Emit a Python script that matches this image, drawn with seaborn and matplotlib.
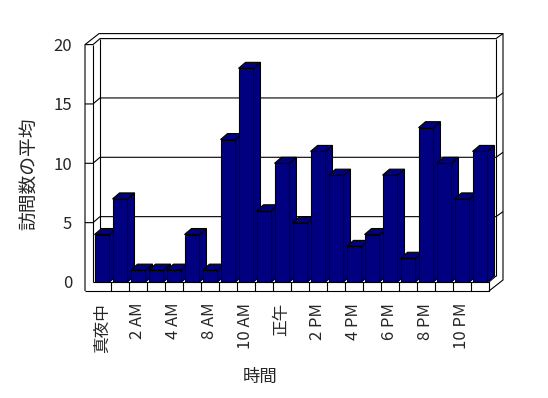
import numpy as np
import pandas as pd
import matplotlib
matplotlib.use("Agg")
import matplotlib.pyplot as plt
import seaborn as sns
from matplotlib.patches import Polygon
from matplotlib.lines import Line2D

# ---- data ----
hours = ["真夜中", "1 AM", "2 AM", "3 AM", "4 AM", "5 AM", "8 AM", "9 AM",
         "10 AM", "11 AM", "正午", "1 PM", "2 PM", "3 PM", "4 PM", "5 PM",
         "6 PM", "7 PM", "8 PM", "9 PM", "10 PM", "11 PM"]
visits = [4, 7, 1, 1, 1, 4, 1, 12, 18, 6, 10, 5, 11, 9, 3, 4, 9, 2, 13, 10, 7, 11]
y_ticks = [0, 5, 10, 15, 20]
x_title = "時間"
y_title = "訪問数の平均"

sns.set_theme(style="white")
plt.rcParams['font.family'] = ['Noto Sans CJK JP', 'DejaVu Sans']

NAVY = "#000080"
W, H = 548, 398
fig = plt.figure(figsize=(W / 100, H / 100), dpi=100)
L, B, AW, AH = 93, 116, 396, 237.4
ax = fig.add_axes([L / W, B / H, AW / W, AH / H])
ax.set_facecolor("none")

df = pd.DataFrame({x_title: hours, y_title: visits})
sns.barplot(data=df, x=x_title, y=y_title, order=hours, color=NAVY,
            saturation=1, width=0.83, edgecolor="black", linewidth=0.8,
            ax=ax, zorder=5)

n = len(hours)
ax.set_xlim(-0.5, n - 0.5)
ax.set_ylim(y_ticks[0], y_ticks[-1])
sx = AW / n
sy = AH / (y_ticks[-1] - y_ticks[0])


def P(x, y, ox=0.0, oy=0.0):
    return (x + ox / sx, y + oy / sy)


def line(pts, z=1, lw=0.8):
    xs = [p[0] for p in pts]
    ys = [p[1] for p in pts]
    ax.add_line(Line2D(xs, ys, color="black", lw=lw, zorder=z,
                       clip_on=False, solid_capstyle="butt"))


DX, DY = 7, 6          # depth to back wall (px)
OX, OY = 14, 11        # outer edge of wall (px)
TH = 8                 # left wall thickness (px)
FL = 9                 # floor thickness (px)
x_l, x_r = -0.5, n - 0.5
ytop = y_ticks[-1]

# back wall and gridlines
for yv in y_ticks[1:]:
    line([P(x_l, yv, -TH, 0), P(x_l, yv), P(x_l, yv, DX, DY),
          P(x_r, yv, DX, DY), P(x_r, yv, OX, OY)], z=1)
line([P(x_l, 0, DX, DY), P(x_l, ytop, DX, DY)], z=1)
line([P(x_r, 0, DX, DY), P(x_r, ytop, DX, DY)], z=1)
line([P(x_l, 0), P(x_l, ytop)], z=1)
# outer frame
line([P(x_l, 0, -TH, -FL), P(x_l, ytop, -TH, 0), P(x_l, ytop, -TH + OX, OY),
      P(x_r, ytop, OX, OY), P(x_r, 0, OX, 2), P(x_r, 0, 0, -FL)], z=1)
# floor
line([P(x_l, 0, -TH, -FL), P(x_r, 0, 0, -FL), P(x_r, 0), P(x_l, 0)], z=1)
line([P(x_r, 0), P(x_r, 0, DX, DY)], z=1)
for k in range(1, n):
    line([P(k - 0.5, 0), P(k - 0.5, 0, 0, -FL)], z=1)

# 3D bar faces
bars = list(ax.patches)
for p in bars:
    x0 = p.get_x()
    x1 = x0 + p.get_width()
    h = p.get_height()
    side = Polygon([P(x1, 0), P(x1, h), P(x1, h, DX, DY), P(x1, 0, DX, DY)],
                   closed=True, facecolor=NAVY, edgecolor="black", lw=0.8,
                   zorder=3, clip_on=False)
    top = Polygon([P(x0, h), P(x1, h), P(x1, h, DX, DY), P(x0, h, DX, DY)],
                  closed=True, facecolor=NAVY, edgecolor="black", lw=0.8,
                  zorder=3, clip_on=False)
    ax.add_patch(side)
    ax.add_patch(top)

for s in ax.spines.values():
    s.set_visible(False)

ax.set_yticks(y_ticks)
ax.set_yticklabels([str(v) for v in y_ticks], fontsize=12)
ax.set_xticks(range(0, n, 2))
ax.set_xticklabels(hours[::2], rotation=90, fontsize=12)
ax.tick_params(axis="both", length=0)
ax.tick_params(axis="y", pad=15)
ax.tick_params(axis="x", pad=15)

ax.set_xlabel(x_title, fontsize=12.5)
ax.set_ylabel(y_title, fontsize=13.5)
ax.xaxis.set_label_coords((260 - L) / AW, (282 - 377) / AH)
ax.xaxis.label.set_va("center")
ax.yaxis.set_label_coords((30 - L) / AW, (282 - 174) / AH)
ax.yaxis.label.set_va("center")

fig.savefig("out.png", dpi=100)
